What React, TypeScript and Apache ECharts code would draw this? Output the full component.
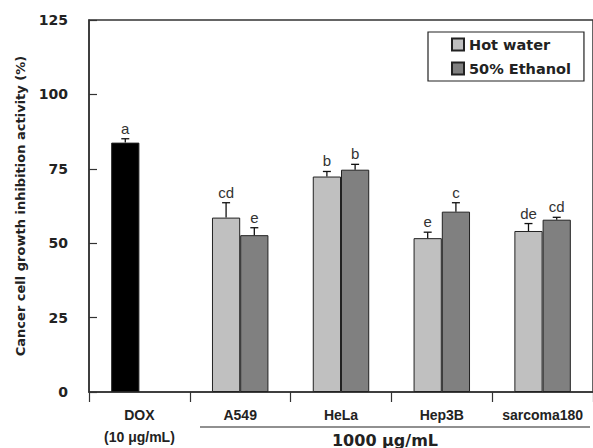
import React, { useEffect, useRef } from "react";
import * as echarts from "echarts";

const categories = ["DOX\n(10 μg/mL)", "A549", "HeLa", "Hep3B", "sarcoma180"];
const hotWater = [83.8, 58.6, 72.4, 51.7, 54.1];
const hotWaterErr = [1.3, 5.0, 1.7, 2.0, 2.5];
const hotWaterLetters = ["a", "cd", "b", "e", "de"];
const ethanol: (number | null)[] = [null, 52.7, 74.7, 60.6, 57.9];
const ethanolErr: (number | null)[] = [null, 2.5, 1.8, 3.0, 0.8];
const ethanolLetters = ["", "e", "b", "c", "cd"];
const yTicks = { min: 0, max: 125, interval: 25 };

const BAR_PCT = 0.28;

function errSeries(name: string, vals: (number | null)[], errs: (number | null)[], letters: string[], side: number) {
  const data = vals
    .map((v, i) => (v == null ? null : [i, v, errs[i] ?? 0]))
    .filter((d) => d !== null);
  return {
    type: "custom",
    name: name + "-err",
    z: 5,
    silent: true,
    data,
    renderItem: (params: any, api: any) => {
      const idx = api.value(0);
      const val = api.value(1);
      const err = api.value(2);
      const band = api.size([1, 0])[0];
      const base = api.coord([idx, val]);
      const top = api.coord([idx, val + err]);
      const x = base[0] + side * (BAR_PCT / 2) * band;
      const cap = 4;
      return {
        type: "group",
        children: [
          { type: "line", shape: { x1: x, y1: base[1], x2: x, y2: top[1] }, style: { stroke: "#111", lineWidth: 1.3 } },
          { type: "line", shape: { x1: x - cap, y1: top[1], x2: x + cap, y2: top[1] }, style: { stroke: "#111", lineWidth: 1.3 } },
          {
            type: "text",
            x,
            y: top[1] - 3,
            style: {
              text: letters[idx],
              fill: "#333",
              font: "15px 'Liberation Sans'",
              align: "center",
              verticalAlign: "bottom",
            },
          },
        ],
      };
    },
  };
}

export default function App() {
  const ref = useRef<HTMLDivElement>(null);
  useEffect(() => {
    if (!ref.current) return;
    const chart = echarts.init(ref.current, null, { renderer: "svg" });
    chart.setOption({
      animation: false,
      backgroundColor: "#fff",
      grid: {
        left: 89,
        width: 508,
        top: 20,
        height: 372,
        show: true,
        borderColor: "#333",
        borderWidth: 1.5,
      },
      legend: {
        data: ["Hot water", "50% Ethanol"],
        orient: "vertical",
        left: 428,
        top: 32,
        padding: [5, 13, 5, 23],
        itemGap: 9,
        itemWidth: 12,
        itemHeight: 12,
        icon: "rect",
        borderColor: "#222",
        borderWidth: 1.2,
        textStyle: {
          fontFamily: "DejaVu Sans",
          fontWeight: "bold",
          fontSize: 14.5,
          color: "#222",
        },
      },
      xAxis: {
        type: "category",
        data: categories,
        axisLine: { lineStyle: { color: "#333", width: 1.5 } },
        axisTick: { show: true, inside: false, length: 10, interval: 0, lineStyle: { color: "#333", width: 1.2 } },
        axisLabel: {
          interval: 0,
          margin: 12,
          fontFamily: "Liberation Sans",
          fontWeight: "bold",
          fontSize: 14,
          color: "#222",
          lineHeight: 22,
        },
      },
      yAxis: {
        type: "value",
        min: yTicks.min,
        max: yTicks.max,
        interval: yTicks.interval,
        name: "Cancer cell growth inhibition activity (%)",
        nameLocation: "middle",
        nameGap: 62,
        nameTextStyle: {
          fontFamily: "DejaVu Sans",
          fontWeight: "bold",
          fontSize: 13,
          color: "#222",
        },
        splitLine: { show: false },
        axisLine: { show: true, lineStyle: { color: "#333", width: 1.5 } },
        axisTick: { show: true, inside: true, length: 8, lineStyle: { color: "#333", width: 1.2 } },
        axisLabel: {
          margin: 21,
          fontFamily: "DejaVu Sans",
          fontWeight: "bold",
          fontSize: 14,
          color: "#222",
        },
      },
      series: [
        {
          type: "bar",
          name: "Hot water",
          data: hotWater.map((v, i) =>
            i === 0 ? { value: v, itemStyle: { color: "#000" } } : v
          ),
          barWidth: BAR_PCT * 100 + "%",
          barGap: "0%",
          itemStyle: { color: "#c0c0c0", borderColor: "#222", borderWidth: 1 },
        },
        {
          type: "bar",
          name: "50% Ethanol",
          data: ethanol.map((v) => (v == null ? "-" : v)),
          barWidth: BAR_PCT * 100 + "%",
          barGap: "0%",
          itemStyle: { color: "#808080", borderColor: "#222", borderWidth: 1 },
        },
        errSeries("Hot water", hotWater, hotWaterErr, hotWaterLetters, -1),
        errSeries("50% Ethanol", ethanol, ethanolErr, ethanolLetters, 1),
      ],
      graphic: [
        {
          type: "line",
          shape: { x1: 200, y1: 427, x2: 590, y2: 427 },
          style: { stroke: "#222", lineWidth: 1.2 },
        },
        {
          type: "text",
          x: 385,
          y: 440,
          style: {
            text: "1000 μg/mL",
            font: "bold 16px 'DejaVu Sans'",
            fill: "#222",
            align: "center",
            verticalAlign: "middle",
          },
        },
      ],
    });
    return () => chart.dispose();
  }, []);
  return <div ref={ref} style={{ position: "fixed", left: 0, top: 0, width: 593, height: 448 }} />;
}
